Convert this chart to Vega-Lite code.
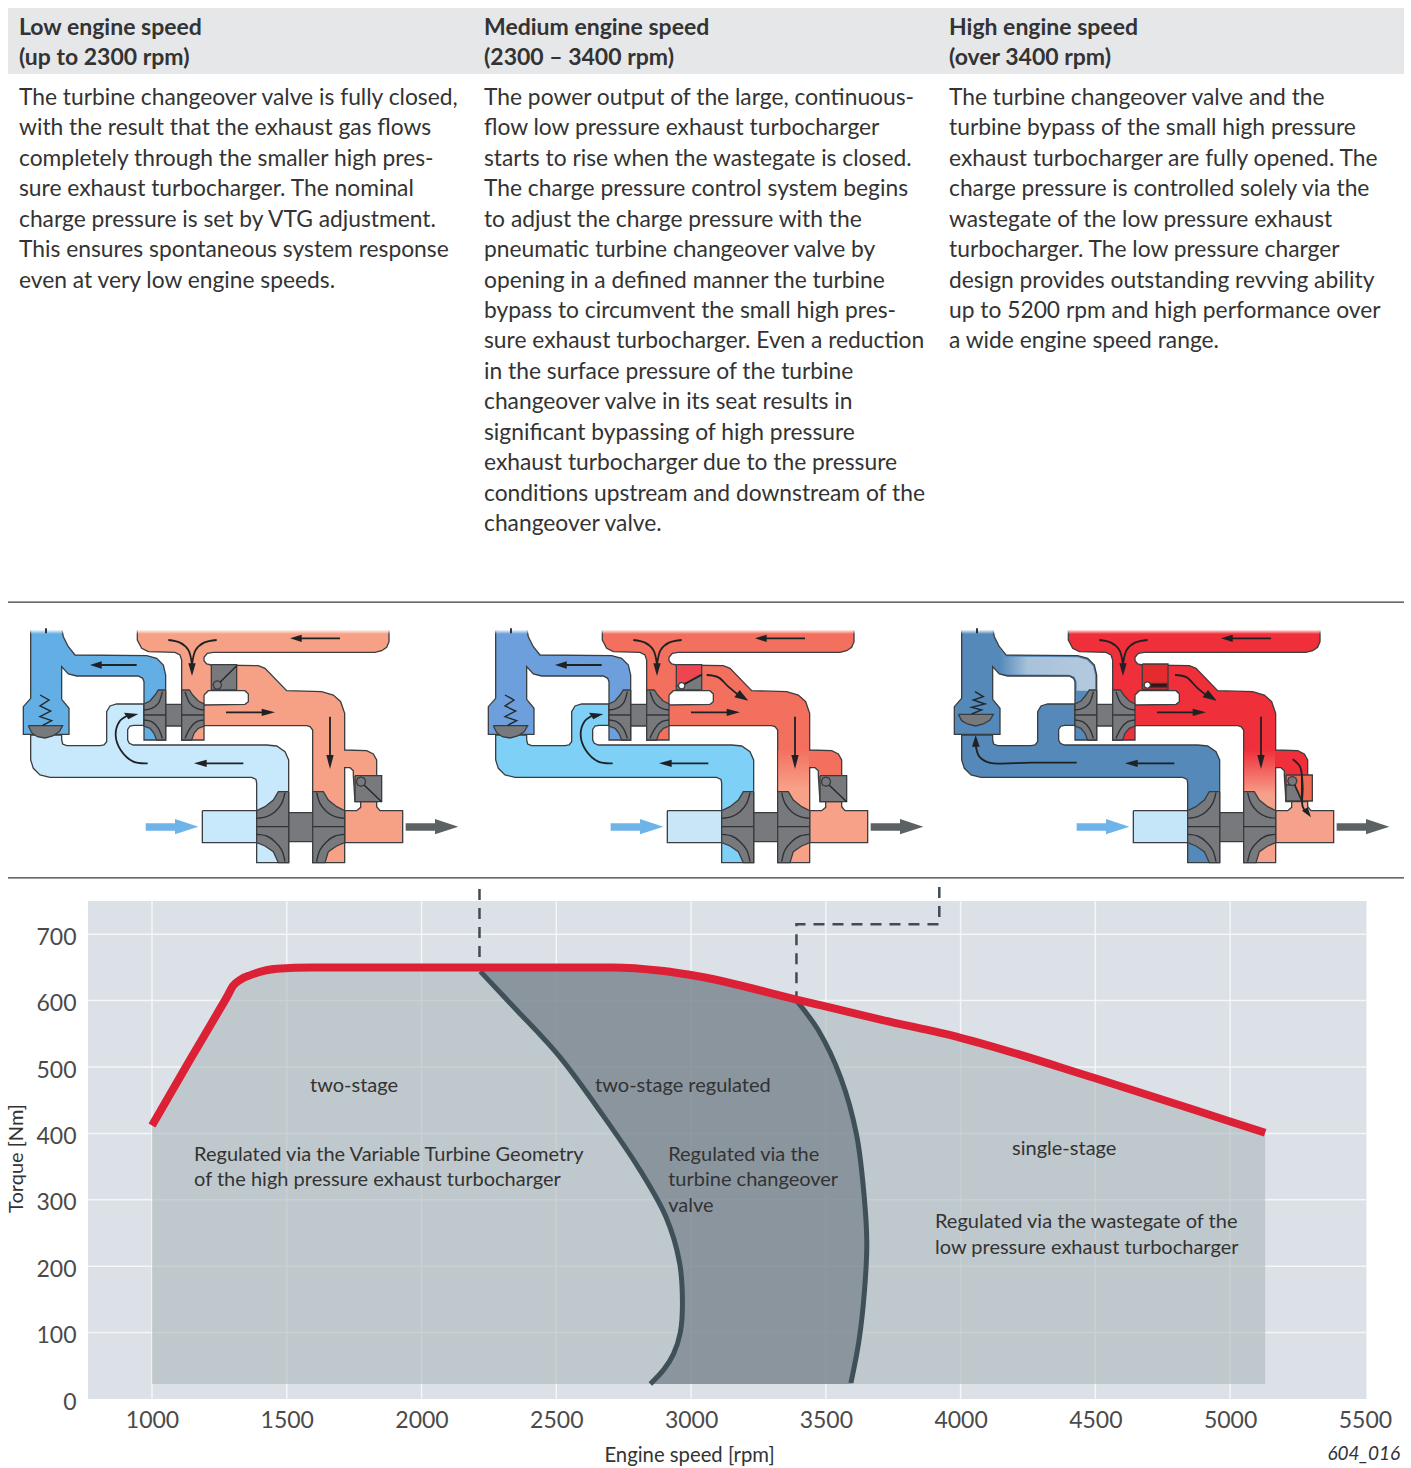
{"$schema":"https://vega.github.io/schema/vega-lite/v6.json","width":1411,"height":1468,"padding":0,"autosize":"none","background":"white","config":{"view":{"stroke":null},"font":"Lato"},
"datasets":{
"copy":[
{"col":0,"line":0,"text":"The turbine changeover valve is fully closed,"},{"col":0,"line":1,"text":"with the result that the exhaust gas flows"},{"col":0,"line":2,"text":"completely through the smaller high pres-"},{"col":0,"line":3,"text":"sure exhaust turbocharger. The nominal"},{"col":0,"line":4,"text":"charge pressure is set by VTG adjustment."},{"col":0,"line":5,"text":"This ensures spontaneous system response"},{"col":0,"line":6,"text":"even at very low engine speeds."},
{"col":1,"line":0,"text":"The power output of the large, continuous-"},{"col":1,"line":1,"text":"flow low pressure exhaust turbocharger"},{"col":1,"line":2,"text":"starts to rise when the wastegate is closed."},{"col":1,"line":3,"text":"The charge pressure control system begins"},{"col":1,"line":4,"text":"to adjust the charge pressure with the"},{"col":1,"line":5,"text":"pneumatic turbine changeover valve by"},{"col":1,"line":6,"text":"opening in a defined manner the turbine"},{"col":1,"line":7,"text":"bypass to circumvent the small high pres-"},{"col":1,"line":8,"text":"sure exhaust turbocharger. Even a reduction"},{"col":1,"line":9,"text":"in the surface pressure of the turbine"},{"col":1,"line":10,"text":"changeover valve in its seat results in"},{"col":1,"line":11,"text":"significant bypassing of high pressure"},{"col":1,"line":12,"text":"exhaust turbocharger due to the pressure"},{"col":1,"line":13,"text":"conditions upstream and downstream of the"},{"col":1,"line":14,"text":"changeover valve."},
{"col":2,"line":0,"text":"The turbine changeover valve and the"},{"col":2,"line":1,"text":"turbine bypass of the small high pressure"},{"col":2,"line":2,"text":"exhaust turbocharger are fully opened. The"},{"col":2,"line":3,"text":"charge pressure is controlled solely via the"},{"col":2,"line":4,"text":"wastegate of the low pressure exhaust"},{"col":2,"line":5,"text":"turbocharger. The low pressure charger"},{"col":2,"line":6,"text":"design provides outstanding revving ability"},{"col":2,"line":7,"text":"up to 5200 rpm and high performance over"},{"col":2,"line":8,"text":"a wide engine speed range."}],
"heads":[{"col":0,"line":-2.3,"text":"Low engine speed"},{"col":0,"line":-1.31,"text":"(up to 2300 rpm)"},{"col":1,"line":-2.3,"text":"Medium engine speed"},{"col":1,"line":-1.31,"text":"(2300 – 3400 rpm)"},{"col":2,"line":-2.3,"text":"High engine speed"},{"col":2,"line":-1.31,"text":"(over 3400 rpm)"}],
"ducts":[
{"shape":"lowpipe","n":0,"x":92,"y":405},{"shape":"lowpipe","n":1,"x":92,"y":480},{"shape":"lowpipe","n":2,"x":100,"y":505},{"shape":"lowpipe","n":3,"x":120,"y":525},{"shape":"lowpipe","n":4,"x":150,"y":532},{"shape":"lowpipe","n":5,"x":755,"y":532},{"shape":"lowpipe","n":6,"x":768,"y":538},{"shape":"lowpipe","n":7,"x":770,"y":550},{"shape":"lowpipe","n":8,"x":770,"y":788},{"shape":"lowpipe","n":9,"x":866,"y":788},{"shape":"lowpipe","n":10,"x":866,"y":480},{"shape":"lowpipe","n":11,"x":855,"y":455},{"shape":"lowpipe","n":12,"x":830,"y":438},{"shape":"lowpipe","n":13,"x":800,"y":435},{"shape":"lowpipe","n":14,"x":400,"y":435},{"shape":"lowpipe","n":15,"x":388,"y":430},{"shape":"lowpipe","n":16,"x":383,"y":420},{"shape":"lowpipe","n":17,"x":383,"y":388},{"shape":"lowpipe","n":18,"x":390,"y":378},{"shape":"lowpipe","n":19,"x":402,"y":376},{"shape":"lowpipe","n":20,"x":432,"y":376},{"shape":"lowpipe","n":21,"x":432,"y":312},{"shape":"lowpipe","n":22,"x":350,"y":312},{"shape":"lowpipe","n":23,"x":330,"y":318},{"shape":"lowpipe","n":24,"x":320,"y":335},{"shape":"lowpipe","n":25,"x":320,"y":425},{"shape":"lowpipe","n":26,"x":312,"y":435},{"shape":"lowpipe","n":27,"x":300,"y":437},{"shape":"lowpipe","n":28,"x":200,"y":437},{"shape":"lowpipe","n":29,"x":188,"y":432},{"shape":"lowpipe","n":30,"x":185,"y":420},{"shape":"lowpipe","n":31,"x":185,"y":405},{"shape":"lowpipe","n":32,"x":92,"y":405},
{"shape":"upper","n":0,"x":92,"y":85},{"shape":"upper","n":1,"x":185,"y":85},{"shape":"upper","n":2,"x":190,"y":110},{"shape":"upper","n":3,"x":205,"y":140},{"shape":"upper","n":4,"x":225,"y":165},{"shape":"upper","n":5,"x":440,"y":167},{"shape":"upper","n":6,"x":470,"y":175},{"shape":"upper","n":7,"x":490,"y":195},{"shape":"upper","n":8,"x":497,"y":225},{"shape":"upper","n":9,"x":497,"y":420},{"shape":"upper","n":10,"x":432,"y":420},{"shape":"upper","n":11,"x":432,"y":245},{"shape":"upper","n":12,"x":428,"y":235},{"shape":"upper","n":13,"x":415,"y":228},{"shape":"upper","n":14,"x":230,"y":228},{"shape":"upper","n":15,"x":205,"y":222},{"shape":"upper","n":16,"x":185,"y":200},{"shape":"upper","n":17,"x":185,"y":298},{"shape":"upper","n":18,"x":207,"y":325},{"shape":"upper","n":19,"x":207,"y":403},{"shape":"upper","n":20,"x":70,"y":403},{"shape":"upper","n":21,"x":70,"y":320},{"shape":"upper","n":22,"x":92,"y":295},{"shape":"upper","n":23,"x":92,"y":85},
{"shape":"hot","n":0,"x":412,"y":85},{"shape":"hot","n":1,"x":1167,"y":85},{"shape":"hot","n":2,"x":1167,"y":125},{"shape":"hot","n":3,"x":1160,"y":142},{"shape":"hot","n":4,"x":1145,"y":152},{"shape":"hot","n":5,"x":1125,"y":157},{"shape":"hot","n":6,"x":640,"y":157},{"shape":"hot","n":7,"x":622,"y":160},{"shape":"hot","n":8,"x":612,"y":172},{"shape":"hot","n":9,"x":612,"y":182},{"shape":"hot","n":10,"x":620,"y":192},{"shape":"hot","n":11,"x":634,"y":195},{"shape":"hot","n":12,"x":775,"y":197},{"shape":"hot","n":13,"x":795,"y":205},{"shape":"hot","n":14,"x":860,"y":272},{"shape":"hot","n":15,"x":965,"y":275},{"shape":"hot","n":16,"x":1000,"y":285},{"shape":"hot","n":17,"x":1022,"y":305},{"shape":"hot","n":18,"x":1034,"y":340},{"shape":"hot","n":19,"x":1034,"y":450},{"shape":"hot","n":20,"x":1100,"y":452},{"shape":"hot","n":21,"x":1120,"y":462},{"shape":"hot","n":22,"x":1130,"y":480},{"shape":"hot","n":23,"x":1130,"y":605},{"shape":"hot","n":24,"x":1065,"y":605},{"shape":"hot","n":25,"x":1060,"y":527},{"shape":"hot","n":26,"x":1060,"y":512},{"shape":"hot","n":27,"x":1050,"y":503},{"shape":"hot","n":28,"x":1034,"y":503},{"shape":"hot","n":29,"x":1034,"y":788},{"shape":"hot","n":30,"x":938,"y":788},{"shape":"hot","n":31,"x":938,"y":390},{"shape":"hot","n":32,"x":930,"y":380},{"shape":"hot","n":33,"x":920,"y":377},{"shape":"hot","n":34,"x":612,"y":377},{"shape":"hot","n":35,"x":612,"y":420},{"shape":"hot","n":36,"x":545,"y":420},{"shape":"hot","n":37,"x":545,"y":180},{"shape":"hot","n":38,"x":540,"y":165},{"shape":"hot","n":39,"x":525,"y":157},{"shape":"hot","n":40,"x":445,"y":155},{"shape":"hot","n":41,"x":425,"y":145},{"shape":"hot","n":42,"x":412,"y":120},{"shape":"hot","n":43,"x":412,"y":85},
{"shape":"notch","n":0,"x":612,"y":285},{"shape":"notch","n":1,"x":625,"y":272},{"shape":"notch","n":2,"x":735,"y":272},{"shape":"notch","n":3,"x":745,"y":282},{"shape":"notch","n":4,"x":745,"y":305},{"shape":"notch","n":5,"x":735,"y":313},{"shape":"notch","n":6,"x":612,"y":315},{"shape":"notch","n":7,"x":612,"y":285},
{"shape":"intake","n":0,"x":607,"y":632},{"shape":"intake","n":1,"x":770,"y":632},{"shape":"intake","n":2,"x":770,"y":728},{"shape":"intake","n":3,"x":607,"y":728},{"shape":"intake","n":4,"x":607,"y":632},
{"shape":"exit","n":0,"x":1034,"y":632},{"shape":"exit","n":1,"x":1070,"y":632},{"shape":"exit","n":2,"x":1082,"y":622},{"shape":"exit","n":3,"x":1082,"y":605},{"shape":"exit","n":4,"x":1130,"y":605},{"shape":"exit","n":5,"x":1130,"y":620},{"shape":"exit","n":6,"x":1140,"y":632},{"shape":"exit","n":7,"x":1208,"y":632},{"shape":"exit","n":8,"x":1208,"y":728},{"shape":"exit","n":9,"x":1034,"y":728},{"shape":"exit","n":10,"x":1034,"y":632}],
"fade":[{"shape":"fade","n":0,"x":940,"y":450},{"shape":"fade","n":1,"x":1032,"y":450},{"shape":"fade","n":2,"x":1032,"y":786},{"shape":"fade","n":3,"x":940,"y":786}],
"branch":[{"shape":"branch","n":0,"x":205,"y":142},{"shape":"branch","n":1,"x":226,"y":170},{"shape":"branch","n":2,"x":440,"y":172},{"shape":"branch","n":3,"x":468,"y":180},{"shape":"branch","n":4,"x":486,"y":198},{"shape":"branch","n":5,"x":492,"y":225},{"shape":"branch","n":6,"x":492,"y":272},{"shape":"branch","n":7,"x":437,"y":272},{"shape":"branch","n":8,"x":437,"y":245},{"shape":"branch","n":9,"x":430,"y":230},{"shape":"branch","n":10,"x":415,"y":224},{"shape":"branch","n":11,"x":230,"y":223},{"shape":"branch","n":12,"x":205,"y":218}],
"topfade":[{"x":80,"x2":200,"y":70,"y2":102},{"x":400,"x2":1180,"y":70,"y2":102}],
"wheels":[
{"shape":"axle1","n":0,"x":866,"y":638},{"shape":"axle1","n":1,"x":938,"y":638},{"shape":"axle1","n":2,"x":938,"y":725},{"shape":"axle1","n":3,"x":866,"y":725},{"shape":"axle1","n":4,"x":866,"y":638},
{"shape":"axle2","n":0,"x":497,"y":313},{"shape":"axle2","n":1,"x":545,"y":313},{"shape":"axle2","n":2,"x":545,"y":378},{"shape":"axle2","n":3,"x":497,"y":378},{"shape":"axle2","n":4,"x":497,"y":313},
{"shape":"bigcomp","n":0,"x":866,"y":575},{"shape":"bigcomp","n":1,"x":835,"y":575},{"shape":"bigcomp","n":2,"x":820,"y":600},{"shape":"bigcomp","n":3,"x":795,"y":620},{"shape":"bigcomp","n":4,"x":770,"y":632},{"shape":"bigcomp","n":5,"x":770,"y":728},{"shape":"bigcomp","n":6,"x":795,"y":738},{"shape":"bigcomp","n":7,"x":820,"y":755},{"shape":"bigcomp","n":8,"x":835,"y":788},{"shape":"bigcomp","n":9,"x":866,"y":788},{"shape":"bigcomp","n":10,"x":866,"y":575},
{"shape":"bigturb","n":0,"x":938,"y":575},{"shape":"bigturb","n":1,"x":970,"y":575},{"shape":"bigturb","n":2,"x":985,"y":600},{"shape":"bigturb","n":3,"x":1010,"y":620},{"shape":"bigturb","n":4,"x":1034,"y":632},{"shape":"bigturb","n":5,"x":1034,"y":728},{"shape":"bigturb","n":6,"x":1010,"y":738},{"shape":"bigturb","n":7,"x":985,"y":755},{"shape":"bigturb","n":8,"x":975,"y":788},{"shape":"bigturb","n":9,"x":938,"y":788},{"shape":"bigturb","n":10,"x":938,"y":575},
{"shape":"smallcomp","n":0,"x":497,"y":270},{"shape":"smallcomp","n":1,"x":475,"y":270},{"shape":"smallcomp","n":2,"x":465,"y":285},{"shape":"smallcomp","n":3,"x":450,"y":303},{"shape":"smallcomp","n":4,"x":432,"y":312},{"shape":"smallcomp","n":5,"x":432,"y":378},{"shape":"smallcomp","n":6,"x":450,"y":385},{"shape":"smallcomp","n":7,"x":462,"y":400},{"shape":"smallcomp","n":8,"x":470,"y":420},{"shape":"smallcomp","n":9,"x":497,"y":420},{"shape":"smallcomp","n":10,"x":497,"y":270},
{"shape":"smallturb","n":0,"x":545,"y":270},{"shape":"smallturb","n":1,"x":568,"y":270},{"shape":"smallturb","n":2,"x":578,"y":285},{"shape":"smallturb","n":3,"x":595,"y":303},{"shape":"smallturb","n":4,"x":612,"y":312},{"shape":"smallturb","n":5,"x":612,"y":378},{"shape":"smallturb","n":6,"x":595,"y":385},{"shape":"smallturb","n":7,"x":582,"y":400},{"shape":"smallturb","n":8,"x":575,"y":420},{"shape":"smallturb","n":9,"x":545,"y":420},{"shape":"smallturb","n":10,"x":545,"y":270}],
"wheelLines":[
{"shape":"a1","n":0,"x":770,"y":655},{"shape":"a1","n":1,"x":800,"y":650},{"shape":"a1","n":2,"x":825,"y":635},{"shape":"a1","n":3,"x":845,"y":610},{"shape":"a1","n":4,"x":855,"y":578},
{"shape":"a2","n":0,"x":770,"y":703},{"shape":"a2","n":1,"x":800,"y":708},{"shape":"a2","n":2,"x":825,"y":725},{"shape":"a2","n":3,"x":845,"y":750},{"shape":"a2","n":4,"x":855,"y":785},
{"shape":"a3","n":0,"x":770,"y":680},{"shape":"a3","n":1,"x":866,"y":680},
{"shape":"b1","n":0,"x":1034,"y":655},{"shape":"b1","n":1,"x":1005,"y":650},{"shape":"b1","n":2,"x":980,"y":635},{"shape":"b1","n":3,"x":960,"y":610},{"shape":"b1","n":4,"x":950,"y":578},
{"shape":"b2","n":0,"x":1034,"y":703},{"shape":"b2","n":1,"x":1005,"y":708},{"shape":"b2","n":2,"x":980,"y":725},{"shape":"b2","n":3,"x":960,"y":750},{"shape":"b2","n":4,"x":950,"y":785},
{"shape":"b3","n":0,"x":938,"y":680},{"shape":"b3","n":1,"x":1034,"y":680},
{"shape":"c1","n":0,"x":432,"y":330},{"shape":"c1","n":1,"x":455,"y":325},{"shape":"c1","n":2,"x":475,"y":310},{"shape":"c1","n":3,"x":487,"y":275},
{"shape":"c2","n":0,"x":432,"y":360},{"shape":"c2","n":1,"x":455,"y":365},{"shape":"c2","n":2,"x":475,"y":385},{"shape":"c2","n":3,"x":487,"y":415},
{"shape":"c3","n":0,"x":432,"y":345},{"shape":"c3","n":1,"x":497,"y":345},
{"shape":"d1","n":0,"x":612,"y":330},{"shape":"d1","n":1,"x":590,"y":325},{"shape":"d1","n":2,"x":570,"y":310},{"shape":"d1","n":3,"x":555,"y":275},
{"shape":"d2","n":0,"x":612,"y":360},{"shape":"d2","n":1,"x":590,"y":365},{"shape":"d2","n":2,"x":570,"y":385},{"shape":"d2","n":3,"x":555,"y":415},
{"shape":"d3","n":0,"x":545,"y":345},{"shape":"d3","n":1,"x":612,"y":345}],
"fat":[
{"shape":"inArrow","n":0,"x":437,"y":670},{"shape":"inArrow","n":1,"x":525,"y":670},{"shape":"inArrow","n":2,"x":525,"y":657},{"shape":"inArrow","n":3,"x":595,"y":680},{"shape":"inArrow","n":4,"x":525,"y":703},{"shape":"inArrow","n":5,"x":525,"y":692},{"shape":"inArrow","n":6,"x":437,"y":692},
{"shape":"outArrow","n":0,"x":1217,"y":670},{"shape":"outArrow","n":1,"x":1305,"y":670},{"shape":"outArrow","n":2,"x":1305,"y":657},{"shape":"outArrow","n":3,"x":1375,"y":680},{"shape":"outArrow","n":4,"x":1305,"y":703},{"shape":"outArrow","n":5,"x":1305,"y":692},{"shape":"outArrow","n":6,"x":1217,"y":692}],
"flows":[
{"shape":"f0","n":0,"x":138,"y":85},{"shape":"f0","n":1,"x":138,"y":100},
{"shape":"f1","n":0,"x":1020,"y":115},{"shape":"f1","n":1,"x":895,"y":115},
{"shape":"f3","n":0,"x":505,"y":120},{"shape":"f3","n":1,"x":540,"y":128},{"shape":"f3","n":2,"x":565,"y":150},{"shape":"f3","n":3,"x":576,"y":195},
{"shape":"f4","n":0,"x":650,"y":120},{"shape":"f4","n":1,"x":612,"y":128},{"shape":"f4","n":2,"x":587,"y":150},{"shape":"f4","n":3,"x":576,"y":195},
{"shape":"f5","n":0,"x":678,"y":337},{"shape":"f5","n":1,"x":790,"y":337},
{"shape":"f6","n":0,"x":990,"y":350},{"shape":"f6","n":1,"x":990,"y":470},
{"shape":"f7","n":0,"x":730,"y":490},{"shape":"f7","n":1,"x":610,"y":490}],
"flowsLow":[{"shape":"f2","n":0,"x":410,"y":195},{"shape":"f2","n":1,"x":295,"y":195},{"shape":"g1","n":0,"x":443,"y":490},{"shape":"g1","n":1,"x":400,"y":485},{"shape":"g1","n":2,"x":362,"y":450},{"shape":"g1","n":3,"x":347,"y":405},{"shape":"g1","n":4,"x":358,"y":365},{"shape":"g1","n":5,"x":380,"y":348}],
"flowsMid":[{"shape":"f2","n":0,"x":410,"y":195},{"shape":"f2","n":1,"x":295,"y":195},{"shape":"g1","n":0,"x":443,"y":490},{"shape":"g1","n":1,"x":400,"y":485},{"shape":"g1","n":2,"x":362,"y":450},{"shape":"g1","n":3,"x":347,"y":405},{"shape":"g1","n":4,"x":358,"y":365},{"shape":"g1","n":5,"x":380,"y":348},{"shape":"g2","n":0,"x":725,"y":225},{"shape":"g2","n":1,"x":760,"y":232},{"shape":"g2","n":2,"x":790,"y":260},{"shape":"g2","n":3,"x":820,"y":285}],
"flowsHigh":[{"shape":"g1","n":0,"x":437,"y":488},{"shape":"g1","n":1,"x":300,"y":488},{"shape":"g1","n":2,"x":175,"y":488},{"shape":"g1","n":3,"x":145,"y":470},{"shape":"g1","n":4,"x":134,"y":435},{"shape":"g2","n":0,"x":732,"y":225},{"shape":"g2","n":1,"x":767,"y":232},{"shape":"g2","n":2,"x":797,"y":262},{"shape":"g2","n":3,"x":825,"y":285},{"shape":"g3","n":0,"x":1085,"y":478},{"shape":"g3","n":1,"x":1107,"y":500},{"shape":"g3","n":2,"x":1115,"y":560},{"shape":"g3","n":3,"x":1115,"y":620},{"shape":"g3","n":4,"x":1130,"y":640}],
"tips":[
{"shape":"h1","n":0,"x":870,"y":115},{"shape":"h1","n":1,"x":905,"y":104},{"shape":"h1","n":2,"x":905,"y":126},
{"shape":"h3","n":0,"x":576,"y":228},{"shape":"h3","n":1,"x":565,"y":190},{"shape":"h3","n":2,"x":587,"y":190},
{"shape":"h4","n":0,"x":825,"y":337},{"shape":"h4","n":1,"x":785,"y":326},{"shape":"h4","n":2,"x":785,"y":348},
{"shape":"h5","n":0,"x":990,"y":507},{"shape":"h5","n":1,"x":979,"y":465},{"shape":"h5","n":2,"x":1001,"y":465},
{"shape":"h6","n":0,"x":582,"y":490},{"shape":"h6","n":1,"x":620,"y":479},{"shape":"h6","n":2,"x":620,"y":501}],
"tipsLow":[{"shape":"h2","n":0,"x":270,"y":195},{"shape":"h2","n":1,"x":305,"y":184},{"shape":"h2","n":2,"x":305,"y":206},{"shape":"k1","n":0,"x":415,"y":342},{"shape":"k1","n":1,"x":372,"y":338},{"shape":"k1","n":2,"x":385,"y":358}],
"tipsMid":[{"shape":"h2","n":0,"x":270,"y":195},{"shape":"h2","n":1,"x":305,"y":184},{"shape":"h2","n":2,"x":305,"y":206},{"shape":"k1","n":0,"x":415,"y":342},{"shape":"k1","n":1,"x":372,"y":338},{"shape":"k1","n":2,"x":385,"y":358},{"shape":"k2","n":0,"x":850,"y":302},{"shape":"k2","n":1,"x":808,"y":292},{"shape":"k2","n":2,"x":824,"y":270}],
"tipsHigh":[{"shape":"k1","n":0,"x":134,"y":405},{"shape":"k1","n":1,"x":123,"y":440},{"shape":"k1","n":2,"x":146,"y":440},{"shape":"k2","n":0,"x":857,"y":302},{"shape":"k2","n":1,"x":815,"y":292},{"shape":"k2","n":2,"x":831,"y":270},{"shape":"k3","n":0,"x":1140,"y":652},{"shape":"k3","n":1,"x":1113,"y":632},{"shape":"k3","n":2,"x":1130,"y":622}],
"fixLow":[
{"shape":"box","material":"steel","n":0,"x":634,"y":194},{"shape":"box","material":"steel","n":1,"x":710,"y":194},{"shape":"box","material":"steel","n":2,"x":710,"y":270},{"shape":"box","material":"steel","n":3,"x":634,"y":270},{"shape":"box","material":"steel","n":4,"x":634,"y":194},
{"shape":"piv","material":"steel","n":0,"x":665,"y":255},{"shape":"piv","material":"steel","n":1,"x":661,"y":264},{"shape":"piv","material":"steel","n":2,"x":652,"y":268},{"shape":"piv","material":"steel","n":3,"x":643,"y":264},{"shape":"piv","material":"steel","n":4,"x":639,"y":255},{"shape":"piv","material":"steel","n":5,"x":643,"y":246},{"shape":"piv","material":"steel","n":6,"x":652,"y":242},{"shape":"piv","material":"steel","n":7,"x":661,"y":246},{"shape":"piv","material":"steel","n":8,"x":665,"y":255},
{"shape":"wg","material":"steel","n":0,"x":1065,"y":527},{"shape":"wg","material":"steel","n":1,"x":1145,"y":527},{"shape":"wg","material":"steel","n":2,"x":1145,"y":605},{"shape":"wg","material":"steel","n":3,"x":1065,"y":605},{"shape":"wg","material":"steel","n":4,"x":1065,"y":527},
{"shape":"piv2","material":"steel","n":0,"x":1097,"y":545},{"shape":"piv2","material":"steel","n":1,"x":1093,"y":555},{"shape":"piv2","material":"steel","n":2,"x":1083,"y":559},{"shape":"piv2","material":"steel","n":3,"x":1073,"y":555},{"shape":"piv2","material":"steel","n":4,"x":1069,"y":545},{"shape":"piv2","material":"steel","n":5,"x":1073,"y":535},{"shape":"piv2","material":"steel","n":6,"x":1083,"y":531},{"shape":"piv2","material":"steel","n":7,"x":1093,"y":535},{"shape":"piv2","material":"steel","n":8,"x":1097,"y":545},
{"shape":"dome","material":"steel","n":0,"x":85,"y":377},{"shape":"dome","material":"steel","n":1,"x":188,"y":377},{"shape":"dome","material":"steel","n":2,"x":178,"y":395},{"shape":"dome","material":"steel","n":3,"x":158,"y":408},{"shape":"dome","material":"steel","n":4,"x":135,"y":414},{"shape":"dome","material":"steel","n":5,"x":112,"y":410},{"shape":"dome","material":"steel","n":6,"x":95,"y":398},{"shape":"dome","material":"steel","n":7,"x":85,"y":377}],
"fixMid":[
{"shape":"boxUp","material":"openMid","n":0,"x":634,"y":194},{"shape":"boxUp","material":"openMid","n":1,"x":710,"y":194},{"shape":"boxUp","material":"openMid","n":2,"x":710,"y":225},{"shape":"boxUp","material":"openMid","n":3,"x":650,"y":257},{"shape":"boxUp","material":"openMid","n":4,"x":634,"y":257},{"shape":"boxUp","material":"openMid","n":5,"x":634,"y":194},
{"shape":"boxLo","material":"steel","n":0,"x":634,"y":257},{"shape":"boxLo","material":"steel","n":1,"x":650,"y":257},{"shape":"boxLo","material":"steel","n":2,"x":710,"y":225},{"shape":"boxLo","material":"steel","n":3,"x":710,"y":270},{"shape":"boxLo","material":"steel","n":4,"x":634,"y":270},{"shape":"boxLo","material":"steel","n":5,"x":634,"y":257},
{"shape":"piv","material":"pivot","n":0,"x":660,"y":257},{"shape":"piv","material":"pivot","n":1,"x":657,"y":264},{"shape":"piv","material":"pivot","n":2,"x":650,"y":267},{"shape":"piv","material":"pivot","n":3,"x":643,"y":264},{"shape":"piv","material":"pivot","n":4,"x":640,"y":257},{"shape":"piv","material":"pivot","n":5,"x":643,"y":250},{"shape":"piv","material":"pivot","n":6,"x":650,"y":247},{"shape":"piv","material":"pivot","n":7,"x":657,"y":250},{"shape":"piv","material":"pivot","n":8,"x":660,"y":257},
{"shape":"wg","material":"steel","n":0,"x":1065,"y":527},{"shape":"wg","material":"steel","n":1,"x":1145,"y":527},{"shape":"wg","material":"steel","n":2,"x":1145,"y":605},{"shape":"wg","material":"steel","n":3,"x":1065,"y":605},{"shape":"wg","material":"steel","n":4,"x":1065,"y":527},
{"shape":"piv2","material":"steel","n":0,"x":1097,"y":545},{"shape":"piv2","material":"steel","n":1,"x":1093,"y":555},{"shape":"piv2","material":"steel","n":2,"x":1083,"y":559},{"shape":"piv2","material":"steel","n":3,"x":1073,"y":555},{"shape":"piv2","material":"steel","n":4,"x":1069,"y":545},{"shape":"piv2","material":"steel","n":5,"x":1073,"y":535},{"shape":"piv2","material":"steel","n":6,"x":1083,"y":531},{"shape":"piv2","material":"steel","n":7,"x":1093,"y":535},{"shape":"piv2","material":"steel","n":8,"x":1097,"y":545},
{"shape":"dome","material":"steel","n":0,"x":85,"y":377},{"shape":"dome","material":"steel","n":1,"x":188,"y":377},{"shape":"dome","material":"steel","n":2,"x":178,"y":395},{"shape":"dome","material":"steel","n":3,"x":158,"y":408},{"shape":"dome","material":"steel","n":4,"x":135,"y":414},{"shape":"dome","material":"steel","n":5,"x":112,"y":410},{"shape":"dome","material":"steel","n":6,"x":95,"y":398},{"shape":"dome","material":"steel","n":7,"x":85,"y":377}],
"fixHigh":[
{"shape":"box","material":"openHigh","n":0,"x":634,"y":192},{"shape":"box","material":"openHigh","n":1,"x":711,"y":192},{"shape":"box","material":"openHigh","n":2,"x":711,"y":268},{"shape":"box","material":"openHigh","n":3,"x":634,"y":268},{"shape":"box","material":"openHigh","n":4,"x":634,"y":192},
{"shape":"flap","material":"flap","n":0,"x":652,"y":250},{"shape":"flap","material":"flap","n":1,"x":709,"y":250},{"shape":"flap","material":"flap","n":2,"x":709,"y":262},{"shape":"flap","material":"flap","n":3,"x":652,"y":262},
{"shape":"piv","material":"pivot","n":0,"x":659,"y":255},{"shape":"piv","material":"pivot","n":1,"x":656,"y":262},{"shape":"piv","material":"pivot","n":2,"x":649,"y":265},{"shape":"piv","material":"pivot","n":3,"x":642,"y":262},{"shape":"piv","material":"pivot","n":4,"x":639,"y":255},{"shape":"piv","material":"pivot","n":5,"x":642,"y":248},{"shape":"piv","material":"pivot","n":6,"x":649,"y":245},{"shape":"piv","material":"pivot","n":7,"x":656,"y":248},{"shape":"piv","material":"pivot","n":8,"x":659,"y":255},
{"shape":"wg","material":"openWaste","n":0,"x":1065,"y":525},{"shape":"wg","material":"openWaste","n":1,"x":1144,"y":525},{"shape":"wg","material":"openWaste","n":2,"x":1144,"y":603},{"shape":"wg","material":"openWaste","n":3,"x":1065,"y":603},{"shape":"wg","material":"openWaste","n":4,"x":1065,"y":525},
{"shape":"wgIn","material":"steel","n":0,"x":1065,"y":555},{"shape":"wgIn","material":"steel","n":1,"x":1090,"y":555},{"shape":"wgIn","material":"steel","n":2,"x":1112,"y":603},{"shape":"wgIn","material":"steel","n":3,"x":1065,"y":603},{"shape":"wgIn","material":"steel","n":4,"x":1065,"y":555},
{"shape":"piv2","material":"steel","n":0,"x":1098,"y":543},{"shape":"piv2","material":"steel","n":1,"x":1094,"y":553},{"shape":"piv2","material":"steel","n":2,"x":1084,"y":557},{"shape":"piv2","material":"steel","n":3,"x":1074,"y":553},{"shape":"piv2","material":"steel","n":4,"x":1070,"y":543},{"shape":"piv2","material":"steel","n":5,"x":1074,"y":533},{"shape":"piv2","material":"steel","n":6,"x":1084,"y":529},{"shape":"piv2","material":"steel","n":7,"x":1094,"y":533},{"shape":"piv2","material":"steel","n":8,"x":1098,"y":543},
{"shape":"dome","material":"steel","n":0,"x":82,"y":343},{"shape":"dome","material":"steel","n":1,"x":187,"y":343},{"shape":"dome","material":"steel","n":2,"x":177,"y":360},{"shape":"dome","material":"steel","n":3,"x":157,"y":372},{"shape":"dome","material":"steel","n":4,"x":134,"y":378},{"shape":"dome","material":"steel","n":5,"x":109,"y":372},{"shape":"dome","material":"steel","n":6,"x":92,"y":362},{"shape":"dome","material":"steel","n":7,"x":82,"y":343}],
"rodsLow":[
{"shape":"spring","n":0,"x":120,"y":285},{"shape":"spring","n":1,"x":147,"y":300},{"shape":"spring","n":2,"x":120,"y":318},{"shape":"spring","n":3,"x":152,"y":333},{"shape":"spring","n":4,"x":120,"y":350},{"shape":"spring","n":5,"x":155,"y":362},{"shape":"spring","n":6,"x":128,"y":376},
{"shape":"flap1","n":0,"x":660,"y":247},{"shape":"flap1","n":1,"x":710,"y":197},
{"shape":"flap2","n":0,"x":1092,"y":555},{"shape":"flap2","n":1,"x":1145,"y":605}],
"rodsMid":[
{"shape":"spring","n":0,"x":120,"y":285},{"shape":"spring","n":1,"x":147,"y":300},{"shape":"spring","n":2,"x":120,"y":318},{"shape":"spring","n":3,"x":152,"y":333},{"shape":"spring","n":4,"x":120,"y":350},{"shape":"spring","n":5,"x":155,"y":362},{"shape":"spring","n":6,"x":128,"y":376},
{"shape":"flap1","n":0,"x":658,"y":253},{"shape":"flap1","n":1,"x":710,"y":225},
{"shape":"flap1b","n":0,"x":660,"y":251},{"shape":"flap1b","n":1,"x":710,"y":223},
{"shape":"flap2","n":0,"x":1092,"y":555},{"shape":"flap2","n":1,"x":1145,"y":605}],
"rodsHigh":[
{"shape":"spring","n":0,"x":132,"y":275},{"shape":"spring","n":1,"x":157,"y":290},{"shape":"spring","n":2,"x":127,"y":300},{"shape":"spring","n":3,"x":162,"y":312},{"shape":"spring","n":4,"x":122,"y":322},{"shape":"spring","n":5,"x":152,"y":330},{"shape":"spring","n":6,"x":122,"y":342},
{"shape":"flap2","n":0,"x":1092,"y":555},{"shape":"flap2","n":1,"x":1112,"y":600},
{"shape":"wall","n":0,"x":1112,"y":525},{"shape":"wall","n":1,"x":1112,"y":603}],
"plot":[{"rpm":762.5,"rpm2":5506,"torque":0,"torque2":750}],
"gridV":[{"rpm":1000,"torque":0,"torque2":750},{"rpm":1500,"torque":0,"torque2":750},{"rpm":2000,"torque":0,"torque2":750},{"rpm":2500,"torque":0,"torque2":750},{"rpm":3000,"torque":0,"torque2":750},{"rpm":3500,"torque":0,"torque2":750},{"rpm":4000,"torque":0,"torque2":750},{"rpm":4500,"torque":0,"torque2":750},{"rpm":5000,"torque":0,"torque2":750}],
"gridH":[{"torque":100,"rpm":762.5,"rpm2":5506},{"torque":200,"rpm":762.5,"rpm2":5506},{"torque":300,"rpm":762.5,"rpm2":5506},{"torque":400,"rpm":762.5,"rpm2":5506},{"torque":500,"rpm":762.5,"rpm2":5506},{"torque":600,"rpm":762.5,"rpm2":5506},{"torque":700,"rpm":762.5,"rpm2":5506}],
"curve":[{"rpm":1000,"torque":412},{"rpm":1140,"torque":510},{"rpm":1250,"torque":586},{"rpm":1280,"torque":607},{"rpm":1300,"torque":622},{"rpm":1330,"torque":632},{"rpm":1363,"torque":638},{"rpm":1463,"torque":648},{"rpm":1596,"torque":650},{"rpm":2218,"torque":650},{"rpm":2708,"torque":650},{"rpm":2890,"torque":645},{"rpm":3036,"torque":636},{"rpm":3387,"torque":602},{"rpm":3707,"torque":571},{"rpm":4000,"torque":544},{"rpm":4500,"torque":483},{"rpm":5000,"torque":418},{"rpm":5130,"torque":401}],
"region":[{"n":0,"rpm":2218,"torque":644},{"n":1,"rpm":2343,"torque":590},{"n":2,"rpm":2509,"torque":517},{"n":3,"rpm":2675,"torque":426},{"n":4,"rpm":2807,"torque":347},{"n":5,"rpm":2907,"torque":274},{"n":6,"rpm":2957,"torque":206},{"n":7,"rpm":2968,"torque":144},{"n":8,"rpm":2960,"torque":100},{"n":9,"rpm":2935,"torque":68},{"n":10,"rpm":2900,"torque":45},{"n":11,"rpm":2849,"torque":22.6},{"n":12,"rpm":3593,"torque":22.6},{"n":13,"rpm":3623,"torque":88},{"n":14,"rpm":3643,"torque":161},{"n":15,"rpm":3652,"torque":234},{"n":16,"rpm":3643,"torque":302},{"n":17,"rpm":3614,"torque":398},{"n":18,"rpm":3556,"torque":483},{"n":19,"rpm":3471,"torque":556},{"n":20,"rpm":3387,"torque":602},{"n":21,"rpm":3036,"torque":636},{"n":22,"rpm":2890,"torque":645},{"n":23,"rpm":2708,"torque":650},{"n":24,"rpm":2218,"torque":650}],
"bounds":[{"shape":"left","n":0,"rpm":2218,"torque":644},{"shape":"left","n":1,"rpm":2343,"torque":590},{"shape":"left","n":2,"rpm":2509,"torque":517},{"shape":"left","n":3,"rpm":2675,"torque":426},{"shape":"left","n":4,"rpm":2807,"torque":347},{"shape":"left","n":5,"rpm":2907,"torque":274},{"shape":"left","n":6,"rpm":2957,"torque":206},{"shape":"left","n":7,"rpm":2968,"torque":144},{"shape":"left","n":8,"rpm":2960,"torque":100},{"shape":"left","n":9,"rpm":2935,"torque":68},{"shape":"left","n":10,"rpm":2900,"torque":45},{"shape":"left","n":11,"rpm":2849,"torque":22.6},{"shape":"right","n":0,"rpm":3593,"torque":24},{"shape":"right","n":1,"rpm":3623,"torque":88},{"shape":"right","n":2,"rpm":3643,"torque":161},{"shape":"right","n":3,"rpm":3652,"torque":234},{"shape":"right","n":4,"rpm":3643,"torque":302},{"shape":"right","n":5,"rpm":3614,"torque":398},{"shape":"right","n":6,"rpm":3556,"torque":483},{"shape":"right","n":7,"rpm":3471,"torque":556},{"shape":"right","n":8,"rpm":3387,"torque":602}],
"dashes":[{"shape":"d1","n":0,"rpm":2215,"torque":768},{"shape":"d1","n":1,"rpm":2215,"torque":650},{"shape":"d2","n":0,"rpm":3921,"torque":771},{"shape":"d2","n":1,"rpm":3921,"torque":715},{"shape":"d2","n":2,"rpm":3391,"torque":715},{"shape":"d2","n":3,"rpm":3391,"torque":602}],
"notes":[{"rpm":1586,"torque":471,"text":"two-stage"},{"rpm":2644,"torque":471,"text":"two-stage regulated"},{"rpm":1156,"torque":367,"text":"Regulated via the Variable Turbine Geometry"},{"rpm":1156,"torque":330,"text":"of the high pressure exhaust turbocharger"},{"rpm":2915,"torque":367,"text":"Regulated via the"},{"rpm":2915,"torque":330,"text":"turbine changeover"},{"rpm":2915,"torque":291,"text":"valve"},{"rpm":4191,"torque":376.5,"text":"single-stage"},{"rpm":3905,"torque":266.6,"text":"Regulated via the wastegate of the"},{"rpm":3905,"torque":227.4,"text":"low pressure exhaust turbocharger"}],
"code":[{"rpm":5631,"torque":-83,"text":"604_016"}],
"band":[{"col":-0.0237,"col2":2.9785,"line":-2.958,"line2":-0.789}],
"rules":[{"col":-0.0237,"col2":2.9785,"line":16.567},{"col":-0.0237,"col2":2.9785,"line":25.627}]
},
"resolve":{"scale":{"x":"independent","y":"independent","fill":"independent"}},
"layer":[
{"encoding":{"x":{"field":"col","type":"quantitative","scale":{"domain":[0,2],"range":[19,949],"nice":false,"zero":false},"axis":null},"y":{"field":"line","type":"quantitative","scale":{"domain":[0,14],"range":[98,524],"nice":false,"zero":false},"axis":null}},
"layer":[
{"data":{"name":"band"},"mark":{"type":"rect","color":"#e6e7e9"},"encoding":{"x2":{"field":"col2"},"y2":{"field":"line2"}}},
{"data":{"name":"rules"},"mark":{"type":"rule","color":"#3a3a3a","strokeWidth":1.3},"encoding":{"x2":{"field":"col2"}}},
{"data":{"name":"copy"},"mark":{"type":"text","align":"left","baseline":"middle","font":"Lato","fontSize":22.8,"color":"#333333"},"encoding":{"text":{"field":"text"}}},
{"data":{"name":"heads"},"mark":{"type":"text","align":"left","baseline":"middle","font":"Lato","fontSize":23,"fontWeight":"bold","color":"#333333"},"encoding":{"text":{"field":"text"}}}
]},
{"encoding":{"x":{"field":"x","type":"quantitative","scale":{"domain":[0,1440],"range":[0,480],"nice":false,"zero":false},"axis":null},"y":{"field":"y","type":"quantitative","scale":{"domain":[0,870],"range":[600,890],"nice":false,"zero":false},"axis":null}},
"resolve":{"scale":{"fill":"independent"}},
"layer":[
{"data":{"name":"ducts"},"mark":{"type":"line","stroke":"#3a3d40","strokeWidth":1.3},"encoding":{"fill":{"field":"shape","type":"nominal","legend":null,"scale":{"domain":["lowpipe","upper","hot","notch","intake","exit"],"range":["#c8e8fb","#63aee4","#f6a086","#ffffff","#c8e8fb","#f6a086"]}},"order":{"field":"n"}}},
{"data":{"name":"topfade"},"mark":{"type":"rect","fill":{"gradient":"linear","x1":0,"y1":0,"x2":0,"y2":1,"stops":[{"offset":0,"color":"#ffffff"},{"offset":0.58,"color":"#ffffff"},{"offset":1,"color":"rgba(255,255,255,0)"}]}},"encoding":{"x2":{"field":"x2"},"y2":{"field":"y2"}}},
{"data":{"name":"wheels"},"mark":{"type":"line","fill":"#77797c","stroke":"#3a3d40","strokeWidth":1.3},"encoding":{"detail":{"field":"shape"},"order":{"field":"n"}}},
{"data":{"name":"fixLow"},"mark":{"type":"line","stroke":"#3a3d40","strokeWidth":1.3},"encoding":{"fill":{"field":"material","type":"nominal","legend":null,"scale":{"domain":["steel"],"range":["#77797c"]}},"detail":{"field":"shape"},"order":{"field":"n"}}},
{"data":{"name":"wheelLines"},"mark":{"type":"line","stroke":"#2f3236","strokeWidth":1.4,"interpolate":"catmull-rom"},"encoding":{"detail":{"field":"shape"},"order":{"field":"n"}}},
{"data":{"name":"rodsLow"},"mark":{"type":"line","stroke":"#25282b","strokeWidth":1.4},"encoding":{"detail":{"field":"shape"},"order":{"field":"n"}}},
{"data":{"name":"flows"},"mark":{"type":"line","stroke":"#1f2224","strokeWidth":1.8,"interpolate":"catmull-rom"},"encoding":{"detail":{"field":"shape"},"order":{"field":"n"}}},
{"data":{"name":"flowsLow"},"mark":{"type":"line","stroke":"#1f2224","strokeWidth":1.8,"interpolate":"catmull-rom"},"encoding":{"detail":{"field":"shape"},"order":{"field":"n"}}},
{"data":{"name":"tips"},"mark":{"type":"line","fill":"#1f2224","stroke":null},"encoding":{"detail":{"field":"shape"},"order":{"field":"n"}}},
{"data":{"name":"tipsLow"},"mark":{"type":"line","fill":"#1f2224","stroke":null},"encoding":{"detail":{"field":"shape"},"order":{"field":"n"}}},
{"data":{"name":"fat"},"mark":{"type":"line","stroke":null},"encoding":{"fill":{"field":"shape","type":"nominal","legend":null,"scale":{"domain":["inArrow","outArrow"],"range":["#6fb4e8","#5c6163"]}},"order":{"field":"n"}}}
]},
{"encoding":{"x":{"field":"x","type":"quantitative","scale":{"domain":[0,1440],"range":[465,945],"nice":false,"zero":false},"axis":null},"y":{"field":"y","type":"quantitative","scale":{"domain":[0,870],"range":[600,890],"nice":false,"zero":false},"axis":null}},
"resolve":{"scale":{"fill":"independent"}},
"layer":[
{"data":{"name":"ducts"},"mark":{"type":"line","stroke":"#3a3d40","strokeWidth":1.3},"encoding":{"fill":{"field":"shape","type":"nominal","legend":null,"scale":{"domain":["lowpipe","upper","hot","notch","intake","exit"],"range":["#7ed0f6","#6c9fdb","#f3705f","#ffffff","#c8e6f8","#f8a189"]}},"order":{"field":"n"}}},
{"data":{"name":"fade"},"mark":{"type":"line","stroke":null,"fill":{"gradient":"linear","x1":0,"y1":0,"x2":0,"y2":1,"stops":[{"offset":0,"color":"#f3705f"},{"offset":0.35,"color":"#f8a189"},{"offset":1,"color":"#f8a189"}]}},"encoding":{"order":{"field":"n"}}},
{"data":{"name":"topfade"},"mark":{"type":"rect","fill":{"gradient":"linear","x1":0,"y1":0,"x2":0,"y2":1,"stops":[{"offset":0,"color":"#ffffff"},{"offset":0.58,"color":"#ffffff"},{"offset":1,"color":"rgba(255,255,255,0)"}]}},"encoding":{"x2":{"field":"x2"},"y2":{"field":"y2"}}},
{"data":{"name":"wheels"},"mark":{"type":"line","fill":"#77797c","stroke":"#3a3d40","strokeWidth":1.3},"encoding":{"detail":{"field":"shape"},"order":{"field":"n"}}},
{"data":{"name":"fixMid"},"mark":{"type":"line","stroke":"#3a3d40","strokeWidth":1.3},"encoding":{"fill":{"field":"material","type":"nominal","legend":null,"scale":{"domain":["steel","openMid","pivot"],"range":["#77797c","#ee4650","#ffffff"]}},"detail":{"field":"shape"},"order":{"field":"n"}}},
{"data":{"name":"wheelLines"},"mark":{"type":"line","stroke":"#2f3236","strokeWidth":1.4,"interpolate":"catmull-rom"},"encoding":{"detail":{"field":"shape"},"order":{"field":"n"}}},
{"data":{"name":"rodsMid"},"mark":{"type":"line","stroke":"#25282b","strokeWidth":1.4},"encoding":{"detail":{"field":"shape"},"order":{"field":"n"}}},
{"data":{"name":"flows"},"mark":{"type":"line","stroke":"#1f2224","strokeWidth":1.8,"interpolate":"catmull-rom"},"encoding":{"detail":{"field":"shape"},"order":{"field":"n"}}},
{"data":{"name":"flowsMid"},"mark":{"type":"line","stroke":"#1f2224","strokeWidth":1.8,"interpolate":"catmull-rom"},"encoding":{"detail":{"field":"shape"},"order":{"field":"n"}}},
{"data":{"name":"tips"},"mark":{"type":"line","fill":"#1f2224","stroke":null},"encoding":{"detail":{"field":"shape"},"order":{"field":"n"}}},
{"data":{"name":"tipsMid"},"mark":{"type":"line","fill":"#1f2224","stroke":null},"encoding":{"detail":{"field":"shape"},"order":{"field":"n"}}},
{"data":{"name":"fat"},"mark":{"type":"line","stroke":null},"encoding":{"fill":{"field":"shape","type":"nominal","legend":null,"scale":{"domain":["inArrow","outArrow"],"range":["#6fb4e8","#5c6163"]}},"order":{"field":"n"}}}
]},
{"encoding":{"x":{"field":"x","type":"quantitative","scale":{"domain":[0,1440],"range":[931,1411],"nice":false,"zero":false},"axis":null},"y":{"field":"y","type":"quantitative","scale":{"domain":[0,870],"range":[600,890],"nice":false,"zero":false},"axis":null}},
"resolve":{"scale":{"fill":"independent"}},
"layer":[
{"data":{"name":"ducts"},"mark":{"type":"line","stroke":"#3a3d40","strokeWidth":1.3},"encoding":{"fill":{"field":"shape","type":"nominal","legend":null,"scale":{"domain":["lowpipe","upper","hot","notch","intake","exit"],"range":["#5489b9","#5489b9","#ef2f3a","#ffffff","#c5e5f9","#f6a18b"]}},"order":{"field":"n"}}},
{"data":{"name":"branch"},"mark":{"type":"line","stroke":null,"fill":{"gradient":"linear","x1":0,"y1":0,"x2":1,"y2":0,"stops":[{"offset":0,"color":"#5489b9"},{"offset":0.3,"color":"#a9c2da"},{"offset":1,"color":"#b4c9de"}]}},"encoding":{"order":{"field":"n"}}},
{"data":{"name":"fade"},"mark":{"type":"line","stroke":null,"fill":{"gradient":"linear","x1":0,"y1":0,"x2":0,"y2":1,"stops":[{"offset":0,"color":"#ef2f3a"},{"offset":0.4,"color":"#f6a18b"},{"offset":1,"color":"#f6a18b"}]}},"encoding":{"order":{"field":"n"}}},
{"data":{"name":"topfade"},"mark":{"type":"rect","fill":{"gradient":"linear","x1":0,"y1":0,"x2":0,"y2":1,"stops":[{"offset":0,"color":"#ffffff"},{"offset":0.58,"color":"#ffffff"},{"offset":1,"color":"rgba(255,255,255,0)"}]}},"encoding":{"x2":{"field":"x2"},"y2":{"field":"y2"}}},
{"data":{"name":"wheels"},"mark":{"type":"line","fill":"#77797c","stroke":"#3a3d40","strokeWidth":1.3},"encoding":{"detail":{"field":"shape"},"order":{"field":"n"}}},
{"data":{"name":"fixHigh"},"mark":{"type":"line","stroke":"#3a3d40","strokeWidth":1.3},"encoding":{"fill":{"field":"material","type":"nominal","legend":null,"scale":{"domain":["steel","openHigh","openWaste","pivot","flap"],"range":["#77797c","#e62b2e","#ee6a50","#ffffff","#3a1214"]}},"detail":{"field":"shape"},"order":{"field":"n"}}},
{"data":{"name":"wheelLines"},"mark":{"type":"line","stroke":"#2f3236","strokeWidth":1.4,"interpolate":"catmull-rom"},"encoding":{"detail":{"field":"shape"},"order":{"field":"n"}}},
{"data":{"name":"rodsHigh"},"mark":{"type":"line","stroke":"#25282b","strokeWidth":1.4},"encoding":{"detail":{"field":"shape"},"order":{"field":"n"}}},
{"data":{"name":"flows"},"mark":{"type":"line","stroke":"#1f2224","strokeWidth":1.8,"interpolate":"catmull-rom"},"encoding":{"detail":{"field":"shape"},"order":{"field":"n"}}},
{"data":{"name":"flowsHigh"},"mark":{"type":"line","stroke":"#1f2224","strokeWidth":1.8,"interpolate":"catmull-rom"},"encoding":{"detail":{"field":"shape"},"order":{"field":"n"}}},
{"data":{"name":"tips"},"mark":{"type":"line","fill":"#1f2224","stroke":null},"encoding":{"detail":{"field":"shape"},"order":{"field":"n"}}},
{"data":{"name":"tipsHigh"},"mark":{"type":"line","fill":"#1f2224","stroke":null},"encoding":{"detail":{"field":"shape"},"order":{"field":"n"}}},
{"data":{"name":"fat"},"mark":{"type":"line","stroke":null},"encoding":{"fill":{"field":"shape","type":"nominal","legend":null,"scale":{"domain":["inArrow","outArrow"],"range":["#6fb4e8","#5c6163"]}},"order":{"field":"n"}}}
]},
{"encoding":{"x":{"field":"rpm","type":"quantitative","title":"Engine speed [rpm]","scale":{"domain":[762.5,5506],"range":[88,1366.5],"nice":false,"zero":false},"axis":{"orient":"bottom","offset":-69,"grid":false,"domain":false,"ticks":false,"values":[1000,1500,2000,2500,3000,3500,4000,4500,5000,5500],"labelFontSize":23,"labelColor":"#4a4a4a","labelPadding":10,"labelFont":"Lato","format":"d","labelFlush":false,"labelOverlap":false,"title":"Engine speed [rpm]","titleFont":"Lato","titleFontWeight":"normal","titleFontSize":20.3,"titleColor":"#333333","titleX":689,"titleY":56,"titleBaseline":"middle"}},
"y":{"field":"torque","type":"quantitative","title":"Torque [Nm]","scale":{"domain":[0,750],"range":[1399,901],"nice":false,"zero":false},"axis":{"orient":"left","offset":-88,"grid":false,"domain":false,"ticks":false,"values":[0,100,200,300,400,500,600,700],"labelFontSize":23,"labelColor":"#4a4a4a","labelPadding":12,"labelOffset":3,"labelFont":"Lato","labelFlush":false,"labelOverlap":false,"title":"Torque [Nm]","titleFont":"Lato","titleFontWeight":"normal","titleFontSize":20,"titleColor":"#333333","titleX":-72,"titleY":1158,"titleBaseline":"middle"}}},
"layer":[
{"data":{"name":"plot"},"mark":{"type":"rect","color":"#dbe1e7"},"encoding":{"x2":{"field":"rpm2"},"y2":{"field":"torque2"}}},
{"data":{"name":"gridV"},"mark":{"type":"rule","color":"#f4f6f8","strokeWidth":1.5},"encoding":{"y2":{"field":"torque2"}}},
{"data":{"name":"gridH"},"mark":{"type":"rule","color":"#f4f6f8","strokeWidth":1.5},"encoding":{"x2":{"field":"rpm2"}}},
{"data":{"name":"curve"},"mark":{"type":"area","color":"#acb7ba","opacity":0.6,"interpolate":"monotone"},"encoding":{"y2":{"datum":22.6}}},
{"data":{"name":"region"},"mark":{"type":"line","fill":"#67737f","stroke":null,"fillOpacity":0.6},"encoding":{"order":{"field":"n"}}},
{"data":{"name":"bounds"},"mark":{"type":"line","stroke":"#3f5058","strokeWidth":5,"interpolate":"catmull-rom"},"encoding":{"detail":{"field":"shape"},"order":{"field":"n"}}},
{"data":{"name":"dashes"},"mark":{"type":"line","stroke":"#3f4c55","strokeWidth":2.5,"strokeDash":[11,8]},"encoding":{"detail":{"field":"shape"},"order":{"field":"n"}}},
{"data":{"name":"curve"},"mark":{"type":"line","stroke":"#dc2035","strokeWidth":8,"interpolate":"monotone"}},
{"data":{"name":"notes"},"mark":{"type":"text","align":"left","baseline":"middle","font":"Lato","fontSize":20,"color":"#333333"},"encoding":{"text":{"field":"text"}}},
{"data":{"name":"code"},"mark":{"type":"text","align":"right","baseline":"middle","font":"Lato","fontStyle":"italic","fontSize":19,"color":"#333333"},"encoding":{"text":{"field":"text"}}}
]}
]}
